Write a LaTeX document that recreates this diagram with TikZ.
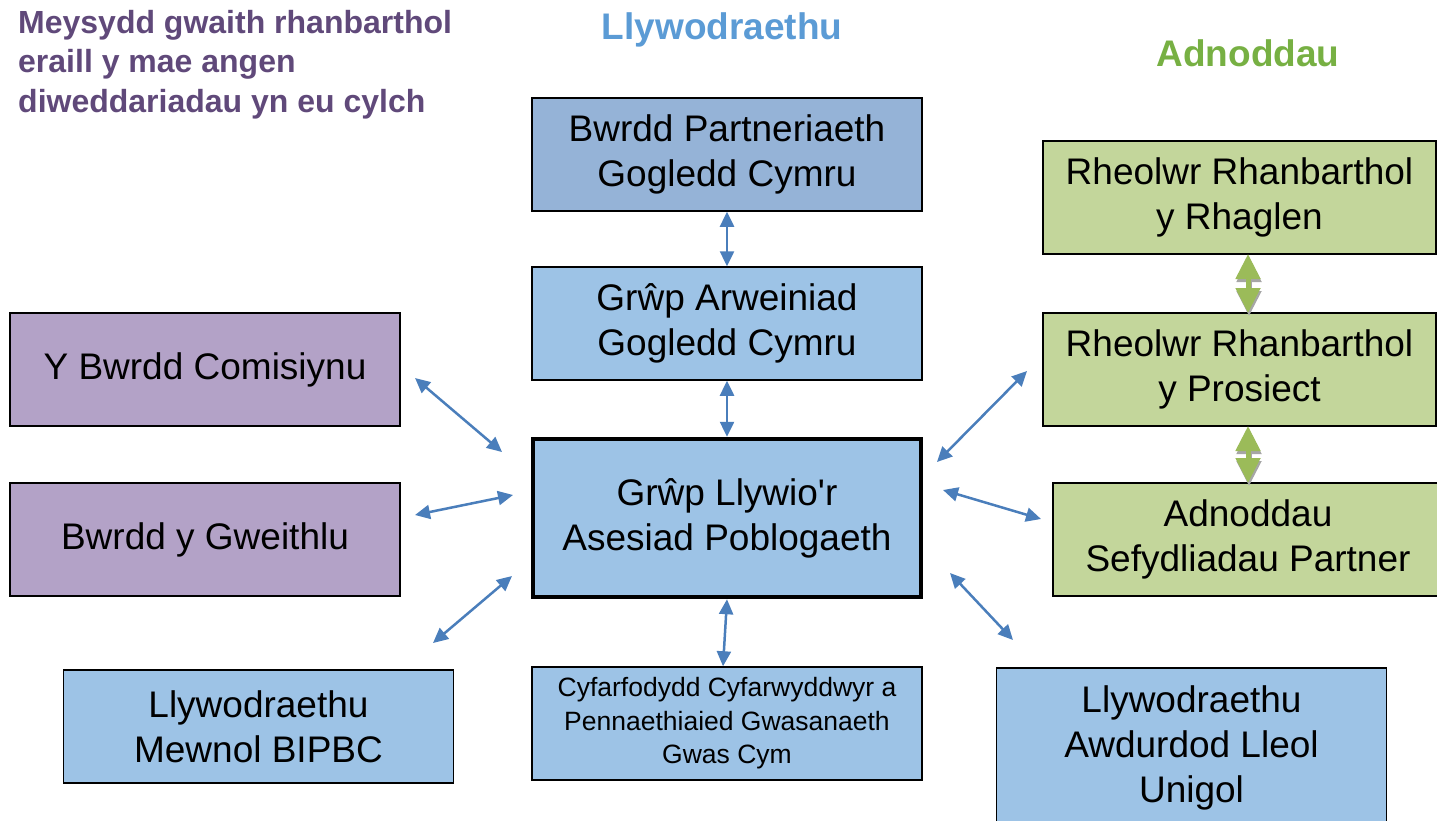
\documentclass[tikz,border=0pt]{standalone}
\usepackage{fontspec}
\setmainfont{Liberation Sans}[Ligatures=TeXOff]
\usetikzlibrary{arrows.meta}
\definecolor{boxdark}{HTML}{95B3D7}
\definecolor{boxlight}{HTML}{9DC3E6}
\definecolor{boxpurple}{HTML}{B3A2C7}
\definecolor{boxgreen}{HTML}{C3D69B}
\definecolor{arrowblue}{HTML}{4A7EBB}
\definecolor{titleblue}{HTML}{5B9BD5}
\definecolor{titlegreen}{HTML}{77B043}
\definecolor{purpletext}{HTML}{60497A}
\definecolor{arrowgreen}{HTML}{9BBB59}
\definecolor{shadowgray}{HTML}{A6A6A6}
\tikzset{
  box/.style={draw=black, line width=1.5pt, minimum width=390pt, minimum height=113pt,
    inner sep=0pt, align=center, font=\fontsize{37}{45}\selectfont},
  arr/.style={draw=arrowblue, line width=2.5pt,
    {Triangle[length=15pt,width=14pt]}-{Triangle[length=15pt,width=14pt]}},
  garr/.style={line width=5pt,
    {Triangle[length=25pt,width=24pt]}-{Triangle[length=25pt,width=24pt]}},
  title/.style={font=\bfseries\fontsize{37}{44}\selectfont}
}
\begin{document}
\begin{tikzpicture}[x=1pt,y=-1pt]
\useasboundingbox (0,0) rectangle (1437,821);
\clip (0,0) rectangle (1437,821);

% titles
\node[title, text=titleblue] (t1) at (722,30) {Llywodraethu};
\node[title, text=titlegreen] (t2) at (1248,53) {Adnoddau};
\node[anchor=north west, align=left, inner sep=0pt, text=purpletext,
  font=\bfseries\fontsize{32}{39.5}\selectfont] (t3) at (18,10)
  {Meysydd gwaith rhanbarthol\\eraill y mae angen\\diweddariadau yn eu cylch};

% centre column
\node[box, fill=boxdark] (bp) at (727,154.5) {Bwrdd Partneriaeth\\Gogledd Cymru};
\node[box, fill=boxlight] (ga) at (727,323.5) {Grŵp Arweiniad\\Gogledd Cymru};
\node[box, fill=boxlight, line width=4.5pt, minimum width=388pt, minimum height=158pt] (c) at (727,518)
  {Grŵp Llywio'r\\Asesiad Poblogaeth};
\node[box, fill=boxlight, font=\fontsize{26.5}{33.5}\selectfont] (cy) at (727,723.5)
  {Cyfarfodydd Cyfarwyddwyr a\\Pennaethiaied Gwasanaeth\\Gwas Cym};

% left column
\node[box, fill=boxpurple] (bc) at (205,369.5) {Y Bwrdd Comisiynu};
\node[box, fill=boxpurple] (bg) at (205,539.5) {Bwrdd y Gweithlu};
\node[box, fill=boxlight] (lm) at (258.5,726.5) {Llywodraethu\\Mewnol BIPBC};

% right column
\node[box, fill=boxgreen, minimum width=393pt] (rr) at (1239.5,197.5) {Rheolwr Rhanbarthol\\y Rhaglen};
\node[box, fill=boxgreen, minimum width=393pt] (rp) at (1239.5,369.5) {Rheolwr Rhanbarthol\\y Prosiect};
\node[box, fill=boxgreen] (as) at (1248,539.5) {Adnoddau\\Sefydliadau Partner};
\node[box, fill=boxlight, minimum height=160pt] (la) at (1191.5,748)
  {Llywodraethu\\Awdurdod Lleol\\Unigol};

% free ends of the diagonal connectors
\coordinate (l1a) at (415,378); \coordinate (l1b) at (502,452);
\coordinate (l2a) at (415,515); \coordinate (l2b) at (513,495);
\coordinate (l3a) at (433,643); \coordinate (l3b) at (512,576);
\coordinate (r1a) at (937,462); \coordinate (r1b) at (1027,371);
\coordinate (r2a) at (943,490); \coordinate (r2b) at (1041,519);
\coordinate (r3a) at (950,573); \coordinate (r3b) at (1013,640);

% blue connectors
\draw[arr] (bp.south) -- (ga.north);
\draw[arr] (ga.south) -- (c.north);
\draw[arr] (c.south) -- ([xshift=-4pt]cy.north);
\draw[arr] (l1a) -- (l1b);
\draw[arr] (l2a) -- (l2b);
\draw[arr] (l3a) -- (l3b);
\draw[arr] (r1a) -- (r1b);
\draw[arr] (r2a) -- (r2b);
\draw[arr] (r3a) -- (r3b);

% green connectors with shadow
\coordinate (g1a) at (1248,254); \coordinate (g1b) at (1248,313);
\coordinate (g2a) at (1248,426); \coordinate (g2b) at (1248,483);
\draw[garr, draw=shadowgray, fill=shadowgray] ([shift={(1,3)}]g1a) -- ([shift={(1,3)}]g1b);
\draw[garr, draw=arrowgreen, fill=arrowgreen] (g1a) -- (g1b);
\draw[garr, draw=shadowgray, fill=shadowgray] ([shift={(1,3)}]g2a) -- ([shift={(1,3)}]g2b);
\draw[garr, draw=arrowgreen, fill=arrowgreen] (g2a) -- (g2b);
\end{tikzpicture}
\end{document}
